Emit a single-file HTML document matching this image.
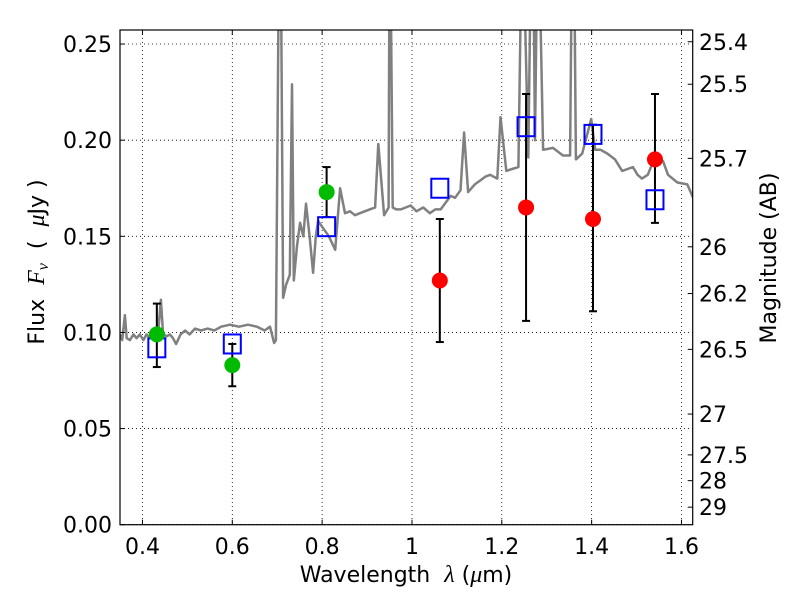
<!DOCTYPE html>
<html><head><meta charset="utf-8"><style>
body{margin:0;background:#fff;width:800px;height:600px;overflow:hidden}
svg{display:block;font-family:"DejaVu Sans","Liberation Sans",sans-serif}
</style></head><body>
<svg id="chart" width="800" height="600" viewBox="0 0 800 600" xmlns="http://www.w3.org/2000/svg">
<rect x="0" y="0" width="800" height="600" fill="#fff"/>
<defs><clipPath id="pc"><rect x="120" y="30" width="572.7" height="494.7"/></clipPath></defs>
<g id="grid"></g>
<g id="spec" clip-path="url(#pc)"></g>
<g id="marks" clip-path="url(#pc)"></g>
<rect x="120" y="30" width="572.7" height="494.7" fill="none" stroke="#000" stroke-width="1.2"/>
<g id="axes"></g>
<text xml:space="preserve" x="44" y="262" transform="rotate(-90 44 262)" text-anchor="middle" font-size="22">Flux  <tspan font-style="italic" font-family="Liberation Serif,serif" font-size="24">F<tspan font-size="16" dy="4">ν</tspan></tspan><tspan dy="-4">  (  </tspan><tspan font-style="italic" font-family="Liberation Serif,serif" font-size="24">μ</tspan>Jy )</text>
<text xml:space="preserve" x="406" y="582" text-anchor="middle" font-size="22">Wavelength  <tspan font-style="italic" font-family="Liberation Serif,serif" font-size="24">λ</tspan> (<tspan font-style="italic" font-family="Liberation Serif,serif" font-size="24">μ</tspan>m)</text>
<text x="776" y="258" transform="rotate(-90 776 258)" text-anchor="middle" font-size="22">Magnitude (AB)</text>
</svg>
<script>
const xTicks=[0.4,0.6,0.8,1.0,1.2,1.4,1.6];
const xTickLabels=["0.4","0.6","0.8","1","1.2","1.4","1.6"];
const yTicks=[0,0.05,0.10,0.15,0.20,0.25];
const yTickLabels=["0.00","0.05","0.10","0.15","0.20","0.25"];
const magTicks=[25.4,25.5,25.7,26,26.2,26.5,27,27.5,28,29];
const magLabels=["25.4","25.5","25.7","26","26.2","26.5","27","27.5","28","29"];
const specWave=[0.350,0.355,0.361,0.365,0.372,0.380,0.387,0.394,0.402,0.409,0.417,0.425,0.435,0.441,0.446,0.454,0.461,0.468,0.475,0.485,0.495,0.505,0.517,0.530,0.545,0.560,0.575,0.595,0.615,0.635,0.655,0.672,0.684,0.693,0.697,0.704,0.708,0.713,0.720,0.728,0.733,0.737,0.744,0.751,0.758,0.764,0.772,0.780,0.786,0.791,0.800,0.815,0.829,0.840,0.851,0.862,0.873,0.884,0.895,0.906,0.918,0.925,0.938,0.948,0.950,0.952,0.957,0.965,0.975,0.986,0.997,1.010,1.025,1.040,1.052,1.064,1.086,1.096,1.108,1.116,1.125,1.140,1.152,1.163,1.174,1.190,1.197,1.210,1.223,1.237,1.244,1.248,1.259,1.265,1.270,1.274,1.279,1.283,1.292,1.314,1.336,1.352,1.356,1.361,1.365,1.379,1.399,1.408,1.420,1.435,1.452,1.468,1.480,1.492,1.502,1.512,1.525,1.537,1.548,1.559,1.570,1.591,1.613,1.626];
const specFlux=[0.099,0.096,0.109,0.097,0.096,0.099,0.097,0.099,0.096,0.099,0.097,0.098,0.100,0.117,0.099,0.098,0.099,0.097,0.094,0.099,0.101,0.099,0.102,0.101,0.102,0.101,0.103,0.104,0.103,0.104,0.103,0.101,0.103,0.0945,0.096,0.300,0.300,0.118,0.125,0.130,0.229,0.127,0.145,0.157,0.150,0.167,0.150,0.131,0.150,0.158,0.155,0.150,0.143,0.175,0.162,0.163,0.161,0.162,0.163,0.164,0.165,0.198,0.161,0.165,0.300,0.300,0.165,0.164,0.164,0.165,0.166,0.163,0.165,0.162,0.164,0.164,0.171,0.170,0.174,0.204,0.173,0.177,0.179,0.181,0.182,0.180,0.212,0.184,0.185,0.186,0.300,0.300,0.191,0.300,0.300,0.200,0.300,0.300,0.195,0.196,0.192,0.192,0.300,0.300,0.190,0.193,0.211,0.195,0.195,0.193,0.190,0.184,0.185,0.186,0.182,0.180,0.182,0.189,0.190,0.189,0.182,0.178,0.177,0.170];
const greenX=[0.432,0.600,0.810];
const greenY=[0.099,0.083,0.173];
const greenLo=[0.082,0.072,0.160];
const greenHi=[0.115,0.094,0.186];
const redX=[1.062,1.254,1.403,1.541];
const redY=[0.127,0.165,0.159,0.190];
const redLo=[0.095,0.106,0.111,0.157];
const redHi=[0.159,0.224,0.208,0.224];
const boxX=[0.432,0.600,0.810,1.062,1.254,1.403,1.541];
const boxY=[0.092,0.094,0.155,0.175,0.207,0.203,0.169];

const X0=120,X1=692.7,Y0=524.7,Y1=30,XMIN=0.35,XMAX=1.625,YMIN=0,YMAX=0.2573;
const sx=v=>X0+(v-XMIN)/(XMAX-XMIN)*(X1-X0);
const sy=v=>Y0-(v-YMIN)/(YMAX-YMIN)*(Y0-Y1);
const NS="http://www.w3.org/2000/svg";
function mk(tag,attrs,parent){const e=document.createElementNS(NS,tag);for(const k in attrs)e.setAttribute(k,attrs[k]);parent.appendChild(e);return e;}
const grid=document.getElementById('grid'),axes=document.getElementById('axes'),spec=document.getElementById('spec'),marks=document.getElementById('marks');
xTicks.forEach((v,i)=>{
  const g=mk('line',{x1:sx(v),x2:sx(v),y1:Y1,y2:Y0,stroke:'#000','stroke-width':0.8,'stroke-dasharray':'1,3'},grid);
  
  
  mk('line',{x1:sx(v),x2:sx(v),y1:Y0,y2:Y0-5,stroke:'#000'},axes);
  mk('line',{x1:sx(v),x2:sx(v),y1:Y1,y2:Y1+5,stroke:'#000'},axes);
  const t=mk('text',{x:sx(v),y:554,'text-anchor':'middle','font-size':22},axes);
  t.textContent=xTickLabels[i];
  
  
});
yTicks.forEach((v,i)=>{
  const g=mk('line',{x1:X0,x2:X1,y1:sy(v),y2:sy(v),stroke:'#000','stroke-width':0.8,'stroke-dasharray':'1,3'},grid);
  
  
  mk('line',{x1:X0,x2:X0+5,y1:sy(v),y2:sy(v),stroke:'#000'},axes);
  const t=mk('text',{x:112,y:sy(v)+8,'text-anchor':'end','font-size':22},axes);
  t.textContent=yTickLabels[i];
  
  
});
magTicks.forEach((m,i)=>{
  const f=Math.pow(10,(23.9-m)/2.5);const y=sy(f);
  mk('line',{x1:X1,x2:X1-5,y1:y,y2:y,stroke:'#000'},axes);
  const t=mk('text',{x:699,y:y+8,'font-size':22},axes);
  t.textContent=magLabels[i];
  
  
});
const pts=specWave.map((w,i)=>sx(w).toFixed(1)+','+sy(specFlux[i]).toFixed(1)).join(' ');
const pl=mk('polyline',{points:pts,fill:'none',stroke:'#808080','stroke-width':2.5,'stroke-linejoin':'round'},spec);


function errbar(x,lo,hi){
  const g=mk('g',{stroke:'#000','stroke-width':2},marks);
  
  
  mk('line',{x1:sx(x),x2:sx(x),y1:sy(lo),y2:sy(hi)},g);
  mk('line',{x1:sx(x)-4,x2:sx(x)+4,y1:sy(lo),y2:sy(lo)},g);
  mk('line',{x1:sx(x)-4,x2:sx(x)+4,y1:sy(hi),y2:sy(hi)},g);
}
greenX.forEach((x,i)=>errbar(x,greenLo[i],greenHi[i]));
redX.forEach((x,i)=>errbar(x,redLo[i],redHi[i]));
boxX.forEach((x,i)=>{
  const r=mk('rect',{x:sx(x)-8.5,y:sy(boxY[i])-9.5,width:17,height:19,fill:'none',stroke:'#0000ff','stroke-width':2},marks);
  
  
});
greenX.forEach((x,i)=>{
  const c=mk('circle',{cx:sx(x),cy:sy(greenY[i]),r:8,fill:'#00bb00'},marks);
  
  
});
redX.forEach((x,i)=>{
  const c=mk('circle',{cx:sx(x),cy:sy(redY[i]),r:8,fill:'#ff0000'},marks);
  
  
});
</script>
</body></html>
